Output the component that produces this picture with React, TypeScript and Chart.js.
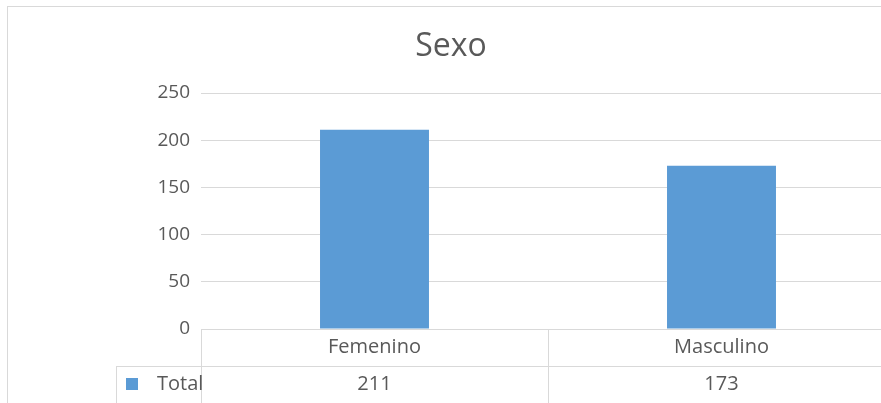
import React, { useEffect, useRef } from "react";
import { Chart, registerables } from "chart.js";

Chart.register(...registerables);

const title = "Sexo";
const categories = ["Femenino", "Masculino"];
const seriesName = "Total";
const totals = [211, 173];
const yTicks = [0, 50, 100, 150, 200, 250];

const TEXT = "#595959";
const GRID = "#D9D9D9";
const BAR = "#5B9BD5";
const FONT = "'Open Sans', sans-serif";

const decorPlugin = {
  id: "decor",
  beforeDraw(chart: any) {
    const ctx = chart.ctx;
    ctx.save();
    ctx.fillStyle = "#ffffff";
    ctx.fillRect(0, 0, chart.width, chart.height);
    ctx.strokeStyle = GRID;
    ctx.lineWidth = 1;
    ctx.strokeRect(7.5, 6.5, chart.width, chart.height);
    ctx.fillStyle = TEXT;
    ctx.font = `32px ${FONT}`;
    ctx.textAlign = "center";
    ctx.textBaseline = "middle";
    ctx.fillText(title, 451, 47);
    ctx.restore();
  },
  afterDraw(chart: any) {
    const ctx = chart.ctx;
    const xs = chart.scales.x;
    const area = chart.chartArea;
    const rowH = 37;
    const top = area.bottom;
    const r1 = top + rowH;
    const half = (xs.getPixelForValue(1) - xs.getPixelForValue(0)) / 2;
    ctx.save();
    ctx.strokeStyle = GRID;
    ctx.lineWidth = 1;
    ctx.beginPath();
    ctx.moveTo(area.left, Math.round(top) + 0.5);
    ctx.lineTo(chart.width, Math.round(top) + 0.5);
    ctx.moveTo(116, Math.round(r1) + 0.5);
    ctx.lineTo(chart.width, Math.round(r1) + 0.5);
    ctx.moveTo(116.5, Math.round(r1));
    ctx.lineTo(116.5, chart.height);
    categories.forEach((_, i) => {
      const bx = Math.round(xs.getPixelForValue(i) - half) + 0.5;
      ctx.moveTo(bx, top);
      ctx.lineTo(bx, chart.height);
    });
    const lastX = Math.round(xs.getPixelForValue(categories.length - 1) + half) + 0.5;
    ctx.moveTo(lastX, top);
    ctx.lineTo(lastX, chart.height);
    ctx.moveTo(116, Math.round(r1 + rowH) + 0.5);
    ctx.lineTo(chart.width, Math.round(r1 + rowH) + 0.5);
    ctx.stroke();

    ctx.fillStyle = TEXT;
    ctx.font = `20px ${FONT}`;
    ctx.textAlign = "center";
    ctx.textBaseline = "middle";
    categories.forEach((c, i) => {
      const cx = xs.getPixelForValue(i);
      ctx.fillText(c, cx, top + rowH / 2);
      ctx.fillText(String(totals[i]), cx, r1 + rowH / 2);
    });
    ctx.fillStyle = BAR;
    ctx.fillRect(126, r1 + 12, 12, 12);
    ctx.fillStyle = TEXT;
    ctx.textAlign = "left";
    ctx.fillText(seriesName, 157, r1 + rowH / 2);
    ctx.restore();
  },
};

export default function App() {
  const ref = useRef<HTMLCanvasElement | null>(null);
  useEffect(() => {
    if (!ref.current) return;
    const chart = new Chart(ref.current, {
      type: "bar",
      data: {
        labels: categories,
        datasets: [
          {
            label: seriesName,
            data: totals,
            backgroundColor: BAR,
            categoryPercentage: 1,
            barPercentage: 0.314,
          },
        ],
      },
      options: {
        animation: false,
        responsive: false,
        maintainAspectRatio: false,
        layout: { padding: { top: 93, bottom: 111, left: 0, right: 5 } },
        plugins: {
          legend: { display: false },
          tooltip: { enabled: false },
          title: { display: false },
        },
        scales: {
          x: { display: false },
          y: {
            min: 0,
            max: 250,
            afterBuildTicks: (scale: any) => {
              scale.ticks = yTicks.map((v) => ({ value: v }));
            },
            afterFit: (scale: any) => {
              scale.width = 201;
            },
            border: { display: false },
            grid: { color: GRID, drawTicks: false, lineWidth: 1 },
            ticks: {
              padding: 11,
              color: TEXT,
              font: { family: FONT, size: 19 },
            },
          },
        },
      },
      plugins: [decorPlugin],
    });
    return () => chart.destroy();
  }, []);
  return (
    <div
      style={{
        position: "absolute",
        left: 0,
        top: 0,
        width: 881,
        height: 403,
        overflow: "hidden",
        background: "#fff",
      }}
    >
      <canvas
        ref={ref}
        width={900}
        height={440}
        style={{ display: "block", width: 900, height: 440 }}
      />
    </div>
  );
}
